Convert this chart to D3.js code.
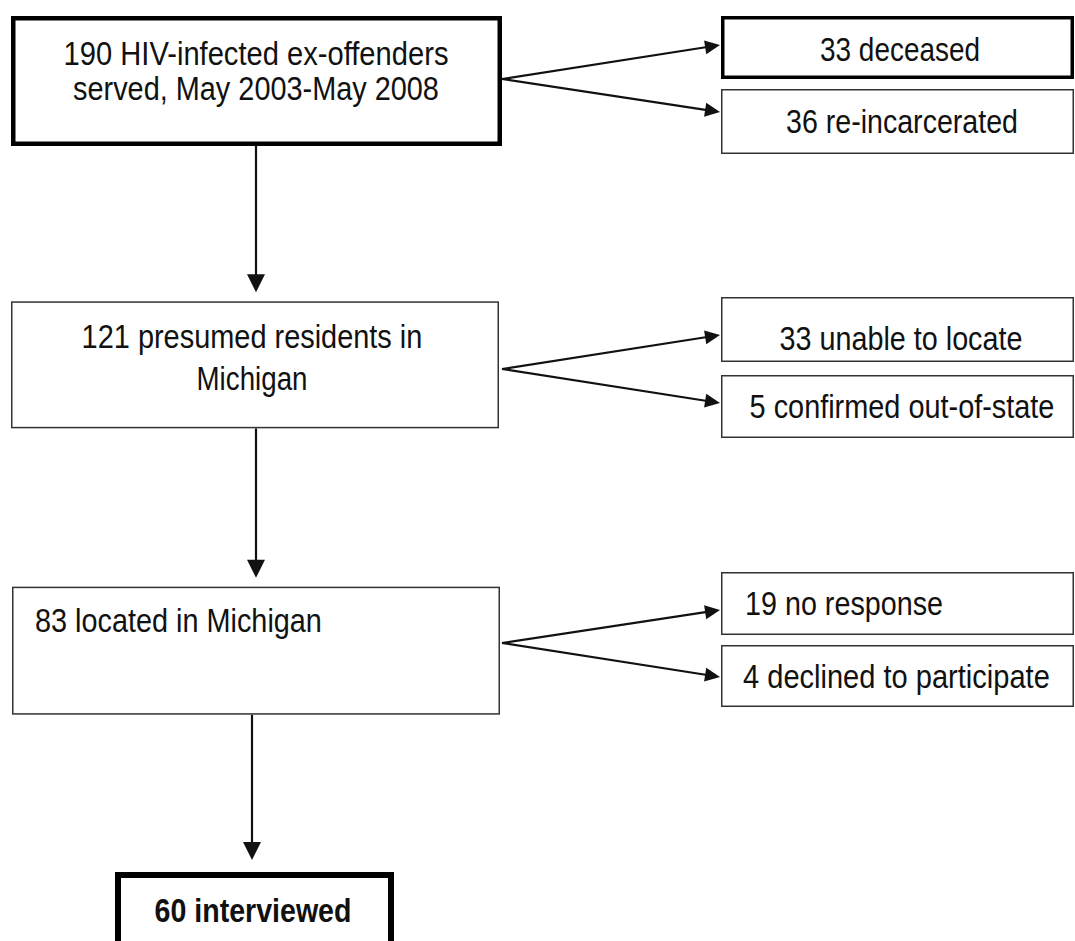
<!DOCTYPE html>
<html>
<head>
<meta charset="utf-8">
<script src="https://cdn.jsdelivr.net/npm/d3@7"></script>
<style>
  html, body { margin: 0; padding: 0; background: #fff; }
  svg { display: block; }
</style>
</head>
<body>
<svg id="chart" width="1075" height="941"></svg>
<script>
// ---- DATA ----
const stageCounts = [190, 121, 83, 60];
const stageTexts = [
  ["HIV-infected ex-offenders", "served, May 2003-May 2008"],
  ["presumed residents in", "Michigan"],
  ["located in Michigan"],
  ["interviewed"]
];
const exclusionCounts = [[33, 36], [33, 5], [19, 4]];
const exclusionTexts = [
  ["deceased", "re-incarcerated"],
  ["unable to locate", "confirmed out-of-state"],
  ["no response", "declined to participate"]
];

// ---- LAYOUT (positions / styles) ----
const svg = d3.select("#chart");
const rowTop = d3.scaleLinear().domain([0, 3]).range([16, 872]);
const mainLayout = [
  { x0: 11, x1: 502, h: 130, sw: 4.5, anchor: "middle", tx: 256, lines: [49, 84], widths: [385, 366], bold: false, arrowX: 256 },
  { x0: 11, x1: 499, h: 127, sw: 1.5, anchor: "middle", tx: 252, lines: [47, 89], widths: [341, 111], bold: false, arrowX: 256 },
  { x0: 12, x1: 500, h: 128, sw: 1.5, anchor: "start", tx: 35, lines: [45], widths: [287], bold: false, arrowX: 252 },
  { x0: 115, x1: 394, h: 120, sw: 6, anchor: "middle", tx: 253, lines: [50], widths: [197], bold: true, arrowX: 252 }
];
const sideLayout = [
  { branchY: 79, boxes: [
    { y0: 16, y1: 79, sw: 3.5, tipY: 45, anchor: "middle", tx: 900, base: 61, w: 160 },
    { y0: 89, y1: 154, sw: 1.5, tipY: 112, anchor: "middle", tx: 902, base: 133, w: 232 }
  ]},
  { branchY: 369, boxes: [
    { y0: 297, y1: 362, sw: 1.5, tipY: 335, anchor: "middle", tx: 901, base: 350, w: 243 },
    { y0: 375, y1: 438, sw: 1.5, tipY: 403, anchor: "middle", tx: 902, base: 418, w: 305 }
  ]},
  { branchY: 643, boxes: [
    { y0: 572, y1: 635, sw: 1.5, tipY: 610, anchor: "start", tx: 745, base: 615, w: 198 },
    { y0: 645, y1: 707, sw: 1.5, tipY: 677, anchor: "start", tx: 743, base: 688, w: 307 }
  ]}
];
const sideX0 = 721, sideX1 = 1074, branchX = 502, tipX = 720;
const FONT = "'Liberation Sans', Arial, Helvetica, sans-serif";
const INK = "#111";

function box(x0, y0, x1, y1, sw, stroke) {
  svg.append("rect")
    .attr("x", x0 + sw / 2).attr("y", y0 + sw / 2)
    .attr("width", x1 - x0 - sw).attr("height", y1 - y0 - sw)
    .attr("fill", "#fff").attr("stroke", stroke).attr("stroke-width", sw);
}
function label(x, y, str, anchor, w, bold) {
  const t = svg.append("text")
    .attr("x", 0).attr("y", 0)
    .attr("text-anchor", anchor)
    .attr("font-family", FONT)
    .attr("font-size", 34)
    .attr("font-weight", bold ? "bold" : "normal")
    .attr("fill", INK)
    .text(str);
  const natural = t.node().getComputedTextLength();
  const k = natural > 0 ? w / natural : 1;
  t.attr("transform", `translate(${x},${y}) scale(${k},1)`);
}
function arrowHead(x, y, angle, len, wid) {
  const pts = [[0, 0], [-len, -wid / 2], [-len, wid / 2]];
  const c = Math.cos(angle), s = Math.sin(angle);
  const p = pts.map(([a, b]) => [x + a * c - b * s, y + a * s + b * c]);
  svg.append("path").attr("d", d3.line()(p) + "Z").attr("fill", INK);
}
function arrow(x1, y1, x2, y2, len, wid, sw) {
  const ang = Math.atan2(y2 - y1, x2 - x1);
  svg.append("line")
    .attr("x1", x1).attr("y1", y1)
    .attr("x2", x2 - Math.cos(ang) * (len - 2)).attr("y2", y2 - Math.sin(ang) * (len - 2))
    .attr("stroke", INK).attr("stroke-width", sw);
  arrowHead(x2, y2, ang, len, wid);
}

// ---- vertical arrows ----
mainLayout.forEach((m, i) => {
  if (i < mainLayout.length - 1) {
    const yStart = rowTop(i) + m.h;
    const yTip = rowTop(i + 1) - (i + 1 === 3 ? 12 : 9);
    arrow(m.arrowX, yStart, m.arrowX, yTip, 18, 18, 2.2);
  }
});

// ---- horizontal arrows ----
sideLayout.forEach(s => {
  s.boxes.forEach(b => arrow(branchX, s.branchY, tipX, b.tipY, 15, 14, 2.2));
});

// ---- main boxes ----
mainLayout.forEach((m, i) => {
  const y0 = rowTop(i);
  box(m.x0, y0, m.x1, y0 + m.h, m.sw, m.sw > 2 ? "#000" : "#333");
  stageTexts[i].forEach((t, j) => {
    const str = j === 0 ? stageCounts[i] + " " + t : t;
    label(m.tx, y0 + m.lines[j], str, m.anchor, m.widths[j], m.bold);
  });
});

// ---- side boxes ----
sideLayout.forEach((s, i) => {
  s.boxes.forEach((b, j) => {
    box(sideX0, b.y0, sideX1, b.y1, b.sw, b.sw > 2 ? "#000" : "#333");
    label(b.tx, b.base, exclusionCounts[i][j] + " " + exclusionTexts[i][j], b.anchor, b.w, false);
  });
});
</script>
</body>
</html>
